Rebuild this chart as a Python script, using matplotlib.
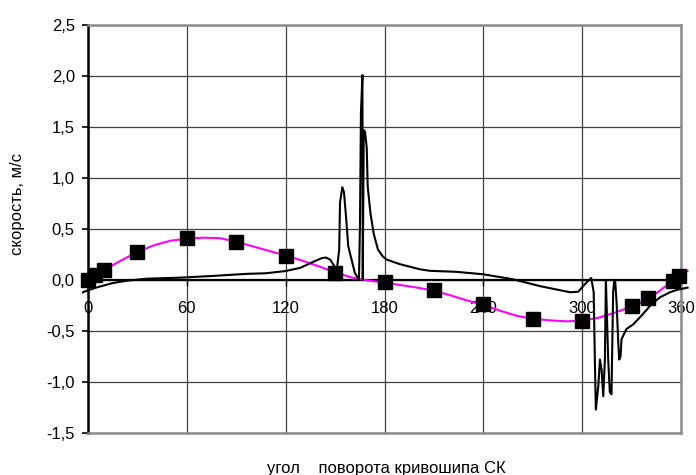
import numpy as np
import matplotlib
matplotlib.use("Agg")
import matplotlib.pyplot as plt
from matplotlib.ticker import FuncFormatter

plt.rcParams['font.family'] = ['Liberation Sans', 'DejaVu Sans']

# theoretical curve (magenta line)
angle_theory = [0, 10, 20, 30, 40, 50, 60, 70, 80, 90, 100, 110, 120, 130, 140,
                150, 160, 170, 180, 190, 200, 210, 220, 230, 240, 250, 260, 270,
                280, 290, 300, 310, 320, 330, 340, 350, 360, 364]
speed_theory = [0.0, 0.10, 0.19, 0.275, 0.34, 0.385, 0.405, 0.415, 0.41, 0.375,
                0.33, 0.285, 0.24, 0.19, 0.135, 0.075, 0.025, -0.005, -0.025,
                -0.05, -0.075, -0.105, -0.15, -0.20, -0.245, -0.30, -0.35, -0.38,
                -0.395, -0.405, -0.40, -0.37, -0.32, -0.26, -0.19, -0.07, 0.05, 0.09]

# calculated points (black squares)
angle_points = [0, 4, 10, 30, 60, 90, 120, 150, 180, 210, 240, 270, 300, 330,
                340, 355, 359]
speed_points = [0.0, 0.05, 0.10, 0.275, 0.41, 0.37, 0.235, 0.07, -0.02, -0.10,
                -0.24, -0.38, -0.40, -0.255, -0.18, -0.01, 0.035]

# measured speed (black line)
angle_meas = [-3, 0, 7, 15, 24, 36, 56, 76, 96, 108, 120, 129, 137, 142, 144.5,
              147, 149, 151, 152.5, 153, 154.4, 155.4, 156.6, 158, 160, 162,
              164.5, 165.1, 165.7, 166.6, 166.8, 167.4, 168.2, 169.2, 169.8,
              171.5, 173.5, 176, 179, 181.3, 189.4, 201.5, 207.6, 223.8, 240,
              258, 274.4, 292.6, 297.6, 301.7, 305.5, 307, 307.7, 308.3, 309.8,
              310.8, 311.8, 312.8, 313.8, 314.4, 315.8, 316.8, 317.8, 318.8,
              319.5, 320.0, 320.9, 321.9, 322.5, 323.3, 323.9, 326.9, 331, 336,
              342, 347.2, 353.3, 358, 364]
speed_meas = [-0.12, -0.10, -0.065, -0.03, -0.006, 0.013, 0.023, 0.04, 0.06,
              0.066, 0.088, 0.12, 0.18, 0.215, 0.22, 0.2, 0.15, 0.09, 0.3, 0.76,
              0.91, 0.86, 0.63, 0.33, 0.2, 0.07, 0.0, 0.53, 1.64, 2.01, 0.0,
              1.47, 1.45, 1.3, 0.92, 0.65, 0.45, 0.30, 0.23, 0.20, 0.155, 0.105,
              0.09, 0.08, 0.056, 0.007, -0.06, -0.12, -0.115, -0.04, 0.02, -0.12,
              -0.78, -1.27, -1.04, -0.78, -0.88, -1.14, -0.78, 0.0, -0.78, -1.10,
              -1.12, -0.12, 0.0, 0.0, -0.22, -0.61, -0.78, -0.75, -0.58, -0.48,
              -0.435, -0.35, -0.24, -0.17, -0.12, -0.095, -0.075]

x_ticks = [0, 60, 120, 180, 240, 300, 360]
y_ticks = [-1.5, -1.0, -0.5, 0.0, 0.5, 1.0, 1.5, 2.0, 2.5]

fig = plt.figure(figsize=(6.96, 4.75), dpi=100)
ax = fig.add_axes([88 / 696, 1 - 433 / 475, 593 / 696, 408 / 475])

ax.plot(angle_theory, speed_theory, color='#ff00ff', lw=1.5, zorder=3,
        clip_on=False)
ax.plot(angle_meas, speed_meas, color='black', lw=1.5, zorder=3,
        clip_on=False)
ax.plot(angle_points, speed_points, 's', color='black', ms=10, zorder=4,
        clip_on=False)

ax.set_xlim(0, 360)
ax.set_ylim(-1.5, 2.5)
ax.set_xticks(x_ticks)
ax.set_yticks(y_ticks)
ax.yaxis.set_major_formatter(FuncFormatter(lambda v, p: f"{v:.1f}".replace('.', ',')))

ax.grid(True, color='#404040', lw=0.9)

ax.spines['bottom'].set_position(('data', 0))
ax.spines['bottom'].set_color('black')
ax.spines['bottom'].set_linewidth(1.6)
ax.spines['left'].set_color('black')
ax.spines['left'].set_linewidth(1.8)
for s in ['top', 'right']:
    ax.spines[s].set_color('#8c8c8c')
    ax.spines[s].set_linewidth(1.8)
ax.axhline(-1.5, color='#8c8c8c', lw=1.8, clip_on=False, zorder=2.6)

ax.tick_params(axis='x', direction='out', length=4, width=1, pad=11,
               labelsize=12, color='black')
ax.tick_params(axis='y', direction='out', length=4.5, width=1.2, pad=5,
               labelsize=12, color='black')

fig.text(18 / 696, 1 - 204 / 475, 'скорость, м/с', rotation=90, fontsize=12,
         ha='center', va='center')
fig.text(386 / 696, 1 - 468 / 475, 'угол    поворота кривошипа СК',
         fontsize=12, ha='center', va='center')

fig.savefig('out.png', dpi=100)
